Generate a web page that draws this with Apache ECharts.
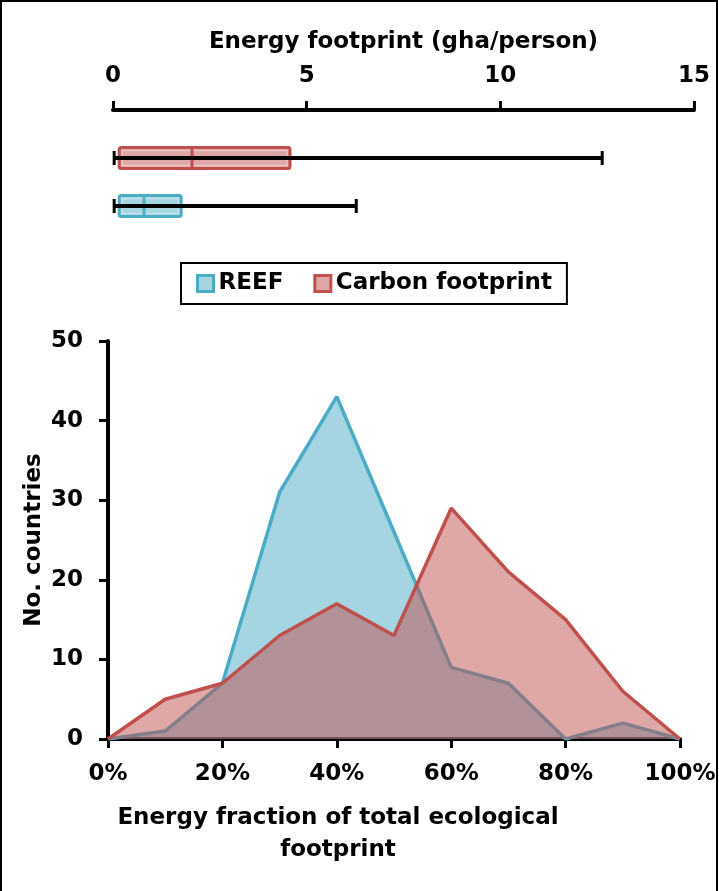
<!DOCTYPE html>
<html>
<head>
<meta charset="utf-8">
<script src="https://cdn.jsdelivr.net/npm/echarts@6/dist/echarts.min.js"></script>
<style>html,body{margin:0;padding:0;background:#fff;}#c{width:719px;height:891px;}</style>
</head>
<body>
<div id="c"></div>
<script>
// Histogram data
const pctBins = [0, 10, 20, 30, 40, 50, 60, 70, 80, 90, 100];
const reefCounts = [0, 1, 7, 31, 43, 26, 9, 7, 0, 2, 0];
const carbonCounts = [0, 5, 7, 13, 17, 13, 29, 21, 15, 6, 0];
const yTicks = [0, 10, 20, 30, 40, 50];
const xTicks = [0, 20, 40, 60, 80, 100];

// Box plot data (gha/person): min, Q1, median, Q3, max
const boxNames = ['Carbon footprint', 'REEF'];
const boxMin = [0.03, 0.03];
const boxQ1 = [0.16, 0.16];
const boxMedian = [2.04, 0.8];
const boxQ3 = [4.57, 1.76];
const boxMax = [12.63, 6.28];
const topTicks = [0, 5, 10, 15];

const FONT = '"DejaVu Sans", sans-serif';
const FS = 23;
const blue = '#4bacc6', blueFill = 'rgba(75,172,198,0.5)';
const red = '#c0504d', redFill = 'rgba(192,80,77,0.5)';
const boxStroke = [red, blue];
const boxFill = [redFill, blueFill];

const chart = echarts.init(document.getElementById('c'), null, {renderer: 'canvas'});

const boxData = boxNames.map((n, i) => [i + 1, boxMin[i], boxQ1[i], boxMedian[i], boxQ3[i], boxMax[i]]);

function renderBox(params, api) {
  const i = params.dataIndex;
  const yv = api.value(0);
  const pMin = api.coord([api.value(1), yv]);
  const xQ1 = api.coord([api.value(2), yv])[0];
  const xMed = api.coord([api.value(3), yv])[0];
  const xQ3 = api.coord([api.value(4), yv])[0];
  const xMax = api.coord([api.value(5), yv])[0];
  const yc = pMin[1];
  const h = 10.5;
  return {
    type: 'group',
    children: [
      {type: 'rect', shape: {x: xQ1, y: yc - h, width: xQ3 - xQ1, height: 2 * h, r: 2},
       style: {fill: boxFill[i], stroke: boxStroke[i], lineWidth: 3}},
      {type: 'rect', shape: {x: xQ1 + 3, y: yc - h + 3, width: xQ3 - xQ1 - 6, height: 2 * h - 6},
       style: {fill: 'none', stroke: 'rgba(255,255,255,0.35)', lineWidth: 1.5}},
      {type: 'line', shape: {x1: xMed, y1: yc - h, x2: xMed, y2: yc + h},
       style: {stroke: boxStroke[i], lineWidth: 3}},
      {type: 'line', shape: {x1: pMin[0], y1: yc, x2: xMax, y2: yc},
       style: {stroke: '#000', lineWidth: 4}},
      {type: 'line', shape: {x1: pMin[0], y1: yc - 7, x2: pMin[0], y2: yc + 7},
       style: {stroke: '#000', lineWidth: 3}},
      {type: 'line', shape: {x1: xMax, y1: yc - 7, x2: xMax, y2: yc + 7},
       style: {stroke: '#000', lineWidth: 3}}
    ]
  };
}

const axisLabelStyle = {color: '#000', fontFamily: FONT, fontWeight: 'bold', fontSize: FS};

const option = {
  backgroundColor: '#fff',
  animation: false,
  grid: [
    {left: 113, right: 25, top: 110, height: 144},
    {left: 108, right: 39, top: 341, bottom: 152}
  ],
  legend: {
    left: 181, top: 263,
    borderColor: '#000', borderWidth: 2,
    padding: [9, 15, 9, 15],
    itemGap: 30, itemWidth: 16, itemHeight: 16,
    icon: 'rect',
    textStyle: {color: '#000', fontFamily: FONT, fontWeight: 'bold', fontSize: FS},
    data: [
      {name: 'REEF', itemStyle: {color: '#a5d5e2', borderColor: blue, borderWidth: 3}},
      {name: 'Carbon footprint', itemStyle: {color: '#dfa7a6', borderColor: red, borderWidth: 3}}
    ]
  },
  xAxis: [
    {
      gridIndex: 0, type: 'value', position: 'top', min: 0, max: 15, interval: 5,
      name: 'Energy footprint (gha/person)', nameLocation: 'middle', nameGap: 56,
      nameTextStyle: {color: '#000', fontFamily: FONT, fontWeight: 'bold', fontSize: FS},
      axisLine: {show: true, lineStyle: {color: '#000', width: 4}},
      axisTick: {show: true, length: 9, lineStyle: {color: '#000', width: 3}},
      axisLabel: Object.assign({margin: 22, formatter: v => topTicks.includes(v) ? String(v) : ''}, axisLabelStyle),
      splitLine: {show: false}
    },
    {
      gridIndex: 1, type: 'value', min: 0, max: 100, interval: 20,
      axisLine: {show: true, lineStyle: {color: '#000', width: 4}},
      axisTick: {show: true, length: 9, lineStyle: {color: '#000', width: 3}},
      axisLabel: Object.assign({margin: 24, formatter: v => xTicks.includes(v) ? v + '%' : ''}, axisLabelStyle),
      splitLine: {show: false}
    }
  ],
  yAxis: [
    {gridIndex: 0, type: 'value', min: 0, max: 3, inverse: true, show: false},
    {
      gridIndex: 1, type: 'value', min: 0, max: 50, interval: 10,
      name: 'No. countries', nameLocation: 'middle', nameGap: 62, nameRotate: 90,
      nameMoveOverlap: false,
      nameTextStyle: {color: '#000', fontFamily: FONT, fontWeight: 'bold', fontSize: FS},
      axisLine: {show: true, lineStyle: {color: '#000', width: 4}},
      axisTick: {show: true, length: 9, lineStyle: {color: '#000', width: 3}},
      axisLabel: Object.assign({margin: 25, formatter: v => yTicks.includes(v) ? String(v) : ''}, axisLabelStyle),
      splitLine: {show: false}
    }
  ],
  graphic: [
    {type: 'rect', shape: {x: 1, y: 1, width: 716, height: 920},
     style: {fill: 'none', stroke: '#000', lineWidth: 2}, z: 100},
    {type: 'text', x: 338, y: 802,
     style: {text: 'Energy fraction of total ecological\nfootprint', textAlign: 'center',
             fill: '#000', font: 'bold ' + FS + 'px ' + FONT, lineHeight: 32}}
  ],
  series: [
    {
      type: 'custom', name: 'box', xAxisIndex: 0, yAxisIndex: 0,
      renderItem: renderBox, encode: {x: [1, 2, 3, 4, 5], y: 0},
      data: boxData, silent: true
    },
    {
      type: 'line', name: 'REEF', xAxisIndex: 1, yAxisIndex: 1, z: 2,
      data: pctBins.map((p, i) => [p, reefCounts[i]]),
      symbol: 'none', color: blue,
      lineStyle: {color: blue, width: 3.5},
      areaStyle: {color: blueFill, opacity: 1}
    },
    {
      type: 'line', name: 'Carbon footprint', xAxisIndex: 1, yAxisIndex: 1, z: 3,
      data: pctBins.map((p, i) => [p, carbonCounts[i]]),
      symbol: 'none', color: red,
      lineStyle: {color: red, width: 3.5},
      areaStyle: {color: redFill, opacity: 1}
    }
  ]
};
chart.setOption(option);
</script>
</body>
</html>
